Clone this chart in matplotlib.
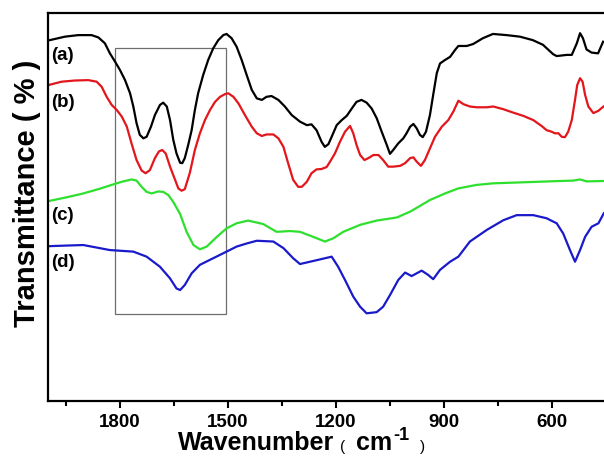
### FTIR spectra of four samples (a)-(d), stacked, with the carbonyl region boxed.

import matplotlib
matplotlib.use("Agg")
import matplotlib.pyplot as plt
from matplotlib.patches import Rectangle

plt.rcParams['font.family'] = ['Liberation Sans', 'DejaVu Sans']

# wavenumber (cm-1) and transmittance (arbitrary, offset)
wn_a = [2000, 1953, 1916, 1879, 1860, 1842, 1828, 1814, 1800, 1786, 1772, 1763,
        1754, 1745, 1735, 1726, 1714, 1703, 1689, 1680, 1670, 1661, 1652, 1643,
        1633, 1627, 1620, 1610, 1601, 1592, 1583, 1569, 1555, 1541, 1527, 1513,
        1504, 1490, 1476, 1462, 1448, 1434, 1420, 1406, 1393, 1379, 1360, 1342,
        1323, 1300, 1281, 1268, 1254, 1240, 1231, 1221, 1212, 1198, 1184, 1170,
        1156, 1143, 1129, 1115, 1101, 1087, 1073, 1059, 1050, 1041, 1027, 1013,
        1004, 994, 985, 976, 967, 959, 950, 939, 930, 920, 911, 897, 883, 869,
        860, 837, 819, 792, 764, 726, 689, 653, 625, 597, 587, 559, 545, 531,
        522, 514, 504, 490, 472, 458]
t_a = [92.9, 93.9, 94.3, 94.3, 93.7, 92.2, 89.6, 87.5, 85.3, 82.7, 79.3, 75.9,
       71.6, 68.6, 67.7, 68.1, 70.7, 73.7, 76.3, 76.9, 75.9, 72.4, 67.3, 63.8,
       61.4, 61.3, 62.6, 66.2, 69.8, 75.0, 79.3, 84.0, 87.9, 90.9, 93.0, 94.3,
       94.6, 93.5, 91.3, 87.9, 84.0, 80.2, 78.0, 77.6, 78.4, 78.6, 77.6, 75.9,
       73.7, 72.0, 71.1, 71.3, 69.8, 66.8, 65.5, 66.2, 68.1, 71.1, 72.4, 73.5,
       75.4, 77.1, 77.6, 76.9, 75.4, 72.9, 69.4, 66.0, 63.7, 64.7, 66.4, 67.7,
       69.0, 70.7, 71.4, 70.3, 68.6, 68.0, 69.4, 73.7, 78.9, 84.5, 87.0, 87.9,
       88.7, 90.5, 91.5, 91.5, 92.0, 93.5, 94.6, 94.3, 93.9, 93.0, 91.8, 89.4,
       88.9, 89.2, 89.2, 92.2, 94.8, 93.5, 90.6, 89.8, 89.6, 92.6]

wn_b = [2000, 1962, 1925, 1888, 1865, 1851, 1837, 1823, 1809, 1795, 1781, 1768,
        1754, 1740, 1729, 1717, 1703, 1692, 1683, 1673, 1661, 1647, 1638, 1629,
        1620, 1606, 1592, 1578, 1564, 1550, 1536, 1522, 1508, 1499, 1485, 1471,
        1453, 1434, 1420, 1406, 1393, 1374, 1360, 1346, 1333, 1319, 1305, 1295,
        1281, 1268, 1254, 1240, 1226, 1217, 1203, 1189, 1175, 1161, 1152, 1143,
        1133, 1121, 1110, 1096, 1082, 1069, 1055, 1041, 1022, 1008, 994, 985,
        976, 964, 953, 939, 925, 906, 888, 874, 860, 846, 828, 809, 781, 763,
        735, 707, 680, 652, 629, 615, 601, 592, 582, 573, 564, 555, 545, 536,
        530, 522, 515, 508, 499, 485, 471, 457]
t_b = [81.4, 82.3, 82.6, 82.7, 82.3, 81.0, 78.4, 76.3, 75.0, 73.3, 70.7, 66.4,
       62.1, 59.4, 58.7, 59.5, 62.6, 64.3, 64.7, 63.8, 60.4, 57.0, 54.8, 54.2,
       54.6, 58.8, 64.7, 69.0, 72.4, 75.0, 77.1, 78.4, 79.1, 79.3, 78.4, 76.7,
       73.7, 70.7, 69.0, 68.3, 68.7, 68.7, 67.7, 65.5, 61.3, 57.0, 55.2, 55.2,
       56.5, 58.7, 59.7, 59.8, 60.3, 61.6, 63.8, 66.8, 69.4, 70.9, 69.0, 66.0,
       63.4, 62.1, 62.6, 63.4, 63.4, 62.1, 60.4, 60.4, 60.6, 61.3, 62.6, 62.8,
       61.7, 60.6, 62.1, 65.1, 68.1, 70.7, 72.4, 74.6, 77.4, 76.5, 75.9, 75.7,
       75.7, 75.9, 75.2, 74.3, 73.5, 72.4, 70.9, 69.8, 69.4, 69.0, 69.0, 68.1,
       68.0, 69.4, 72.4, 77.6, 81.4, 83.2, 82.3, 78.9, 75.9, 74.2, 74.8, 75.9]

wn_c = [2000, 1953, 1906, 1860, 1823, 1795, 1768, 1754, 1740, 1726, 1712, 1694,
        1680, 1666, 1652, 1633, 1615, 1596, 1578, 1559, 1531, 1504, 1476, 1444,
        1402, 1365, 1328, 1300, 1263, 1231, 1208, 1180, 1133, 1087, 1031, 994,
        939, 897, 860, 809, 763, 670, 578, 541, 522, 504, 457]
t_c = [51.5, 52.4, 53.4, 54.6, 55.7, 56.5, 57.1, 56.8, 55.2, 53.9, 53.5, 54.0,
       53.9, 53.1, 51.3, 48.2, 43.6, 40.2, 39.1, 39.8, 42.3, 44.5, 45.8, 46.5,
       45.6, 43.6, 43.8, 43.6, 42.3, 41.1, 41.9, 43.6, 45.4, 46.5, 47.3, 48.8,
       51.8, 53.5, 54.8, 55.7, 56.1, 56.4, 56.7, 56.8, 57.1, 56.6, 56.7]

wn_d = [2000, 1902, 1828, 1763, 1726, 1689, 1661, 1643, 1633, 1620, 1601, 1578,
        1541, 1504, 1476, 1448, 1420, 1374, 1346, 1319, 1300, 1272, 1244, 1212,
        1194, 1175, 1152, 1133, 1115, 1087, 1069, 1050, 1027, 1008, 990, 962,
        944, 930, 911, 883, 860, 828, 781, 735, 698, 652, 615, 587, 569, 550,
        536, 522, 508, 490, 471, 456]
t_d = [39.9, 40.2, 38.9, 38.5, 37.2, 34.6, 31.6, 29.0, 28.6, 29.9, 32.9, 35.1,
       36.8, 38.5, 39.8, 40.6, 41.3, 41.1, 39.4, 36.8, 35.3, 35.9, 36.5, 37.2,
       34.6, 31.2, 26.9, 24.3, 22.6, 22.9, 24.3, 27.3, 31.2, 33.1, 32.2, 33.6,
       32.5, 31.4, 33.8, 35.9, 37.2, 41.1, 44.1, 46.6, 47.9, 47.9, 47.1, 45.8,
       43.2, 38.9, 35.9, 38.9, 42.3, 44.9, 45.8, 48.4]

labels = ['(a)', '(b)', '(c)', '(d)']
label_t = [89.0, 76.9, 47.7, 35.7]
colors = ['#000000', '#e3161b', '#2ee02e', '#1a1acb']

# boxed region
box_wn = (1815, 1505)
box_t = (22.4, 91.1)

major = [1800, 1500, 1200, 900, 600]
minor = [1950, 1650, 1350, 1050, 750]

fig = plt.figure(figsize=(6.04, 4.61), dpi=100)
ax = fig.add_axes([48 / 604, 60 / 461, 556 / 604, 388 / 461])

for wn, t, c in zip([wn_a, wn_b, wn_c, wn_d], [t_a, t_b, t_c, t_d], colors):
    ax.plot(wn, t, color=c, lw=1.6, solid_joinstyle='round')

for lab, y in zip(labels, label_t):
    ax.text(1990, y, lab, fontsize=13.5, fontweight='bold', va='center', ha='left')

ax.add_patch(Rectangle((box_wn[0], box_t[0]), box_wn[1] - box_wn[0],
                       box_t[1] - box_t[0], fill=False, ec='#6e6e6e', lw=0.9))

ax.set_xlim(2000, 455.5)
ax.set_ylim(0, 100)
ax.set_xticks(major)
ax.set_xticks(minor, minor=True)
ax.set_yticks([])
ax.tick_params(axis='x', which='major', direction='out', length=5, width=1.5,
               labelsize=13.5, pad=4)
ax.tick_params(axis='x', which='minor', direction='out', length=3.5, width=1.5)
for lbl in ax.get_xticklabels():
    lbl.set_fontweight('bold')
ax.spines['right'].set_visible(False)
for s in ['left', 'bottom', 'top']:
    ax.spines[s].set_linewidth(1.6)

# x label built from pieces: bold word, thin bracket, bold cm with superscript
t1 = fig.text(178 / 604, 1 - 455 / 461, 'Wavenumber', fontsize=18, fontweight='bold',
              ha='left', va='bottom')
t2 = ax.annotate('(', xy=(1, 0), xycoords=t1, xytext=(4, 1), textcoords='offset points',
                 fontsize=11, va='bottom', ha='left')
t3 = ax.annotate('cm', xy=(1, 0), xycoords=t2, xytext=(8, -1), textcoords='offset points',
                 fontsize=18, fontweight='bold', va='bottom', ha='left')
t4 = ax.annotate('-1', xy=(1, 1), xycoords=t3, xytext=(1, 3), textcoords='offset points',
                 fontsize=13, fontweight='bold', va='top', ha='left')
ax.annotate(')', xy=(1, 0), xycoords=(t4, t3), xytext=(7, 1), textcoords='offset points',
            fontsize=11, va='bottom', ha='left')

fig.text(27 / 604, 1 - 193 / 461, 'Transmittance ( % )', fontsize=21, fontweight='bold',
         rotation=90, ha='center', va='center')

fig.savefig('out.png', dpi=100)
